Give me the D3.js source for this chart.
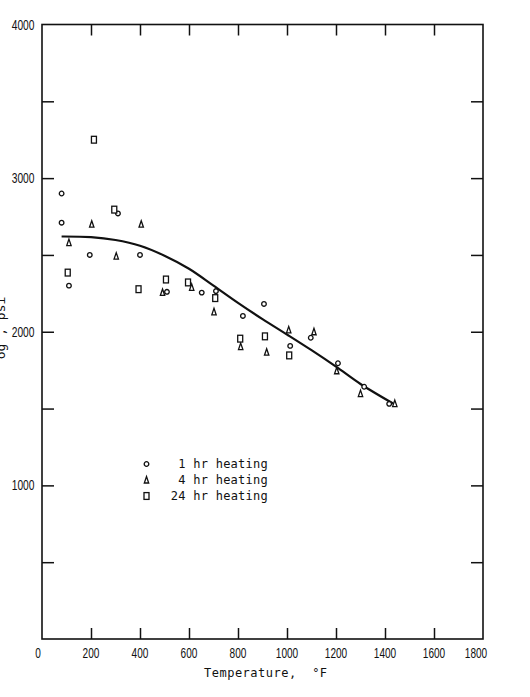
<!DOCTYPE html>
<html>
<head>
<meta charset="utf-8">
<script src="https://cdn.jsdelivr.net/npm/d3@7"></script>
<style>
	body { margin: 0; background: #fff; }
	.tick-label { font-family: "Liberation Sans", Arial, sans-serif; font-size: 14.5px; fill: #111; }
	.mono { font-family: "DejaVu Sans Mono", "Liberation Mono", monospace; font-size: 12px; fill: #111; }
</style>
</head>
<body>
<div class="chart"></div>
<script>

// values (temperature in F, strength)
var oneHour = [[80, 2900], [80, 2710], [110, 2300], [195, 2500], [310, 2770], [400, 2500], [510, 2260], [652, 2255], [710, 2265], [820, 2103], [906, 2181], [1013, 1908], [1097, 1961], [1208, 1795], [1315, 1642], [1417, 1531]];
var fourHour = [[110, 2580], [203, 2700], [303, 2492], [405, 2700], [492, 2256], [611, 2289], [702, 2130], [811, 1903], [917, 1867], [1007, 2012], [1110, 2000], [1203, 1746], [1300, 1597], [1440, 1532]];
var dayHeating = [[105, 2385], [212, 3250], [295, 2795], [394, 2277], [506, 2340], [596, 2321], [707, 2219], [809, 1955], [910, 1970], [1009, 1846]];
var fitCurve = [[80, 2620], [200, 2616], [300, 2597], [400, 2560], [500, 2495], [600, 2410], [700, 2300], [800, 2188], [900, 2082], [1000, 1982], [1100, 1880], [1200, 1773], [1300, 1660], [1433, 1533]];

var xTicks = [0, 200, 400, 600, 800, 1000, 1200, 1400, 1600, 1800];
var yTicks = [500, 1000, 1500, 2000, 2500, 3000, 3500];
var yLabels = [1000, 2000, 3000, 4000];
var legendNames = ["1 hr heating", "4 hr heating", "24 hr heating"];

var width = 530, height = 697;
var plotLeft = 42, plotRight = 483, plotTop = 24.5, plotBottom = 639;

var svg = d3.select(".chart")
	.append("svg")
	.attr("width", width)
	.attr("height", height);

var xScale = d3.scaleLinear().domain([0, 1800]).range([plotLeft, plotRight]);
var yScale = d3.scaleLinear().domain([0, 4000]).range([plotBottom, plotTop]);

// frame
svg.append("rect")
	.attr("x", plotLeft)
	.attr("y", plotTop)
	.attr("width", plotRight - plotLeft)
	.attr("height", plotBottom - plotTop)
	.attr("fill", "none")
	.attr("stroke", "#111")
	.attr("stroke-width", 1.6);

// inward ticks, all four sides
var inner = xTicks.slice(1, -1);
svg.append("g")
	.attr("transform", "translate(0," + plotBottom + ")")
	.call(d3.axisTop(xScale).tickValues(inner).tickSize(11).tickFormat(""))
	.call(function(g) { g.select(".domain").remove(); });
svg.append("g")
	.attr("transform", "translate(0," + plotTop + ")")
	.call(d3.axisBottom(xScale).tickValues(inner).tickSize(11).tickFormat(""))
	.call(function(g) { g.select(".domain").remove(); });
svg.append("g")
	.attr("transform", "translate(" + plotLeft + ",0)")
	.call(d3.axisRight(yScale).tickValues(yTicks).tickSize(12).tickFormat(""))
	.call(function(g) { g.select(".domain").remove(); });
svg.append("g")
	.attr("transform", "translate(" + plotRight + ",0)")
	.call(d3.axisLeft(yScale).tickValues(yTicks).tickSize(12).tickFormat(""))
	.call(function(g) { g.select(".domain").remove(); });
svg.selectAll(".tick line").attr("stroke", "#111").attr("stroke-width", 1.5);

// tick labels (narrow face)
svg.selectAll(".xlab")
	.data(xTicks)
	.enter()
	.append("text")
	.attr("class", "tick-label")
	.attr("x", function(d, i) {
		if (i == 0) return xScale(d) - 4;
		if (i == xTicks.length - 1) return xScale(d) - 7;
		return xScale(d);
	})
	.attr("y", 658)
	.attr("text-anchor", "middle")
	.attr("textLength", function(d) { return String(d).length * 5.6; })
	.attr("lengthAdjust", "spacingAndGlyphs")
	.text(function(d) { return d; });

svg.selectAll(".ylab")
	.data(yLabels)
	.enter()
	.append("text")
	.attr("class", "tick-label")
	.attr("x", 34.5)
	.attr("y", function(d) { return yScale(d) + 5; })
	.attr("text-anchor", "end")
	.attr("textLength", function(d) { return String(d).length * 5.7; })
	.attr("lengthAdjust", "spacingAndGlyphs")
	.text(function(d) { return d; });

// axis titles
svg.append("text")
	.attr("class", "mono")
	.attr("x", 204)
	.attr("y", 677)
	.style("letter-spacing", "0.5px")
	.attr("xml:space", "preserve")
	.text("Temperature,  \u00b0F");

svg.append("text")
	.attr("class", "mono")
	.attr("transform", "translate(5,328) rotate(-90)")
	.attr("text-anchor", "middle")
	.style("font-size", "13px")
	.text("\u03c3g ,  psi");

// fitted curve
var line = d3.line()
	.x(function(d) { return xScale(d[0]); })
	.y(function(d) { return yScale(d[1]); })
	.curve(d3.curveCatmullRom);

svg.append("path")
	.datum(fitCurve)
	.attr("d", line)
	.attr("fill", "none")
	.attr("stroke", "#111")
	.attr("stroke-width", 2.2);

// markers
function circleMark(g) {
	g.append("circle").attr("r", 2.3);
}
function triMark(g) {
	g.append("path").attr("d", "M0,-3.5L2.2,3L-2.2,3Z");
}
function squareMark(g) {
	g.append("rect").attr("x", -2.5).attr("y", -3.4).attr("width", 5).attr("height", 6.8);
}

function drawSeries(data, mark) {
	var pts = svg.append("g")
		.selectAll("g")
		.data(data)
		.enter()
		.append("g")
		.attr("transform", function(d) { return "translate(" + xScale(d[0]) + "," + yScale(d[1]) + ")"; });
	mark(pts);
	pts.selectAll("*")
		.attr("fill", "#fff")
		.attr("stroke", "#111")
		.attr("stroke-width", 1.3);
}

drawSeries(oneHour, circleMark);
drawSeries(fourHour, triMark);
drawSeries(dayHeating, squareMark);

// legend
var marks = [circleMark, triMark, squareMark];
var rowY = [464, 480, 496];
for (var i = 0; i < 3; i++) {
	var g = svg.append("g").attr("transform", "translate(146.5," + rowY[i] + ")");
	marks[i](g);
	g.selectAll("*").attr("fill", "#fff").attr("stroke", "#111").attr("stroke-width", 1.3);
	svg.append("text")
		.attr("class", "mono")
		.attr("x", 268)
		.attr("y", rowY[i] + 4)
		.attr("text-anchor", "end")
		.style("letter-spacing", "0.25px")
		.text(legendNames[i]);
}

</script>
</body>
</html>
